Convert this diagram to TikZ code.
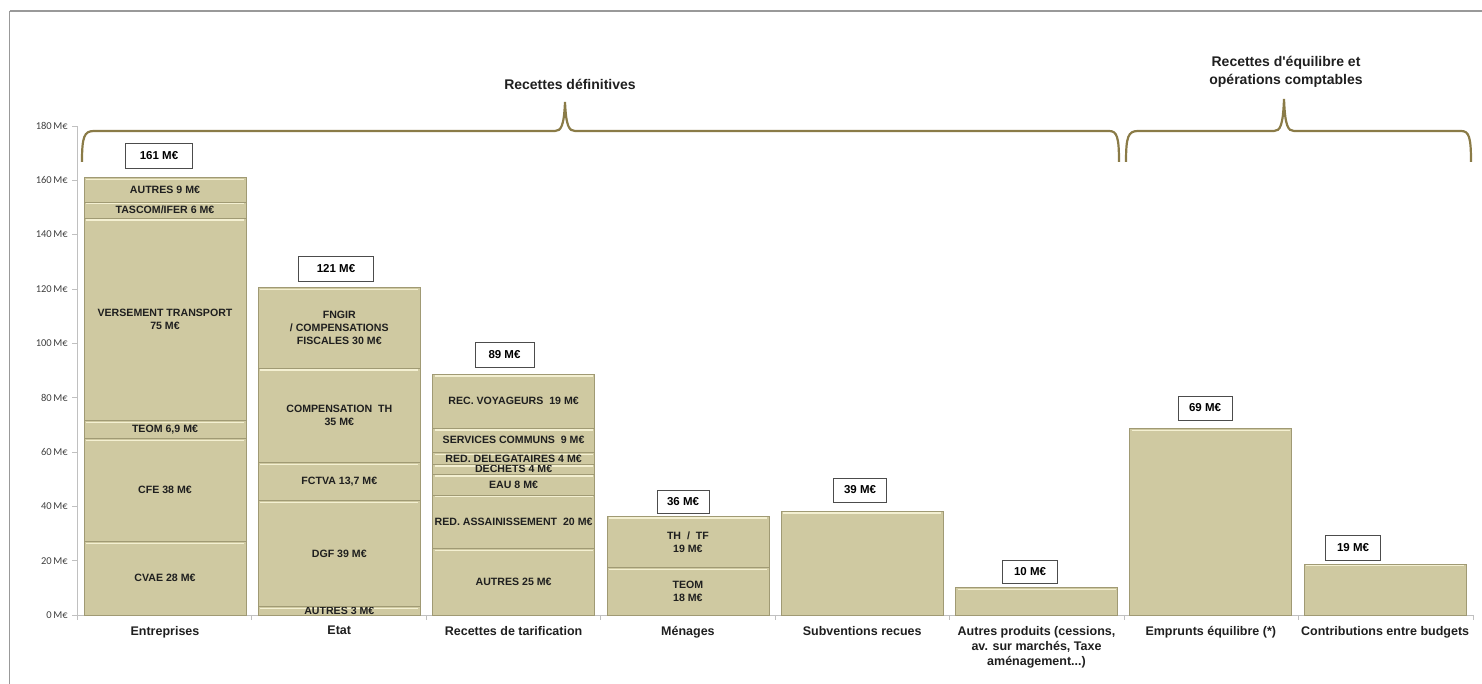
\documentclass[tikz,border=0pt]{standalone}
\usepackage{fontspec}
\setmainfont{Liberation Sans}
\newfontfamily\tickfont{Carlito}
\usetikzlibrary{calc}

\definecolor{barfill}{HTML}{CFC9A1}
\definecolor{baredge}{HTML}{A09A74}
\definecolor{barlight}{HTML}{F4F0D2}
\definecolor{bracecol}{HTML}{8A7B47}
\definecolor{axisgray}{HTML}{C0C0C0}
\definecolor{framegray}{HTML}{999999}
\definecolor{ticktext}{HTML}{404040}

\tikzset{
  seg/.style={fill=barfill, draw=baredge, line width=0.8pt},
  seglbl/.style={font=\bfseries\fontsize{10.6}{13.2}\selectfont, align=center, inner sep=0pt, text=black!88},
  total/.style={draw=black!70, fill=white, line width=0.9pt, minimum height=25pt, inner sep=2pt,
    font=\bfseries\fontsize{11.5}{13}\selectfont},
  catlbl/.style={font=\bfseries\fontsize{12.5}{15}\selectfont, align=center, anchor=north, inner sep=0pt, text=black!88},
  grouplbl/.style={font=\bfseries\fontsize{14}{18}\selectfont, align=center, text=black!88},
  ticklbl/.style={font=\tickfont\fontsize{10.5}{12}\selectfont, text=ticktext, anchor=east, inner sep=0pt},
  bracepen/.style={draw=bracecol, line width=2.2pt},
}

% one piece of a stacked bar: name, left x, bottom, top, label
\newcommand\barseg[5]{%
  \path[seg] (#2,#3) rectangle ({#2+162},#4);
  \draw[barlight, line width=1.3pt] ([xshift=2pt,yshift=-1.8pt]#2,#4) -- ([xshift=-2pt,yshift=-1.8pt]{#2+162},#4);
  \node[seglbl] (#1) at ({#2+81},{(#3+#4)/2}) {#5};
}

\begin{document}
\begin{tikzpicture}[x=1pt,y=1pt]
\useasboundingbox (0,0) rectangle (1482,684);

% frame
\draw[framegray, line width=1.2pt] (9.5,673) -- (1482,673);
\draw[framegray, line width=1.2pt] (9.5,673) -- (9.5,0);

% chart, in M EUR
\begin{scope}[yshift=69pt, y=2.717pt]
  \draw[axisgray, line width=0.8pt] (77,0) -- (77,180);
  \foreach \v in {0,20,...,180}{
    \draw[axisgray, line width=0.8pt] (72,\v) -- (77,\v);
    \node[ticklbl] (tick\v) at (68,\v) {\v\,M€};
  }
  \draw[axisgray, line width=0.8pt] (77,0) -- (1473,0);
  \foreach \i in {0,...,8}
    \draw[axisgray, line width=0.8pt] ({77+174.5*\i},0) -- ++(0pt,-5pt);

  % Entreprises
  \foreach \b/\t/\l [count=\k] in {0/27/{CVAE 28 M€}, 27/65/{CFE 38 M€}, 65/71.6/{TEOM 6,9 M€},
      71.6/146/{VERSEMENT TRANSPORT\\75 M€}, 146/152/{TASCOM/IFER 6 M€}, 152/161/{AUTRES 9 M€}}
    {\barseg{ent\k}{84}{\b}{\t}{\l}}
  % Etat
  \foreach \b/\t/\l [count=\k] in {0/3/{AUTRES 3 M€}, 3/42/{DGF 39 M€}, 42/56/{FCTVA 13,7 M€},
      56/90.8/{COMPENSATION~ TH\\35 M€}, 90.8/120.5/{FNGIR\\/ COMPENSATIONS\\FISCALES 30 M€}}
    {\barseg{eta\k}{258.3}{\b}{\t}{\l}}
  % Recettes de tarification
  \foreach \b/\t/\l [count=\k] in {0/24.4/{AUTRES 25 M€}, 24.4/44.2/{RED. ASSAINISSEMENT~ 20 M€},
      44.2/51.8/{EAU 8 M€}, 51.8/55.5/{DECHETS 4 M€}, 55.5/59.8/{RED. DELEGATAIRES 4 M€},
      59.8/68.8/{SERVICES COMMUNS~ 9 M€}, 68.8/88.6/{REC. VOYAGEURS~ 19 M€}}
    {\barseg{tar\k}{432.6}{\b}{\t}{\l}}
  % Menages
  \foreach \b/\t/\l [count=\k] in {0/17.4/{TEOM\\18 M€}, 17.4/36.4/{TH~ /~ TF\\19 M€}}
    {\barseg{men\k}{606.9}{\b}{\t}{\l}}
  % single bars
  \foreach \x/\t in {781.2/38.2, 955.5/10, 1129.8/68.6, 1304.1/18.8}{
    \path[seg] (\x,0) rectangle ({\x+162},\t);
    \draw[barlight, line width=1.3pt] ([xshift=2pt,yshift=-1.8pt]\x,\t) -- ([xshift=-2pt,yshift=-1.8pt]{\x+162},\t);
  }
\end{scope}

% totals
\node[total, minimum width=67pt] (tot1) at (159,528) {161 M€};
\node[total, minimum width=75pt] (tot2) at (336,415) {121 M€};
\node[total, minimum width=59pt] (tot3) at (504.5,329) {89 M€};
\node[total, minimum width=52pt, minimum height=23pt] (tot4) at (683,182.5) {36 M€};
\node[total, minimum width=53pt, minimum height=24pt] (tot5) at (860,194) {39 M€};
\node[total, minimum width=55pt, minimum height=23pt] (tot6) at (1030,112.5) {10 M€};
\node[total, minimum width=54pt, minimum height=24pt] (tot7) at (1205,276) {69 M€};
\node[total, minimum width=55pt] (tot8) at (1353,136.5) {19 M€};

% categories
\node[catlbl] (cat1) at (165,58) {Entreprises};
\node[catlbl] (cat2) at (339.3,58) {Etat};
\node[catlbl] (cat3) at (513.6,58) {Recettes de tarification};
\node[catlbl] (cat4) at (687.9,58) {Ménages};
\node[catlbl] (cat5) at (862.2,58) {Subventions recues};
\node[catlbl] (cat6) at (1036.5,58) {Autres produits (cessions,\\av. sur marchés, Taxe\\aménagement...)};
\node[catlbl] (cat7) at (1210.8,58) {Emprunts équilibre (*)};
\node[catlbl] (cat8) at (1385.1,58) {Contributions entre budgets};

% braces
\draw[bracepen] (82,522) .. controls (82,547) and (84,553) .. (94,553) -- (555,553)
  .. controls (561,553) and (564,558) .. (565,582) .. controls (566,558) and (569,553) .. (575,553)
  -- (1109,553) .. controls (1117,553) and (1119,547) .. (1119,522);
\draw[bracepen] (1126,522) .. controls (1126,547) and (1128,553) .. (1138,553) -- (1274,553)
  .. controls (1280,553) and (1283,558) .. (1284,585) .. controls (1285,558) and (1288,553) .. (1294,553)
  -- (1461,553) .. controls (1469,553) and (1471,547) .. (1471,522);
\node[grouplbl] (grp1) at (570,600) {Recettes définitives};
\node[grouplbl] (grp2) at (1286,612) {Recettes d\textquotesingle équilibre et\\opérations comptables};
\end{tikzpicture}
\end{document}
